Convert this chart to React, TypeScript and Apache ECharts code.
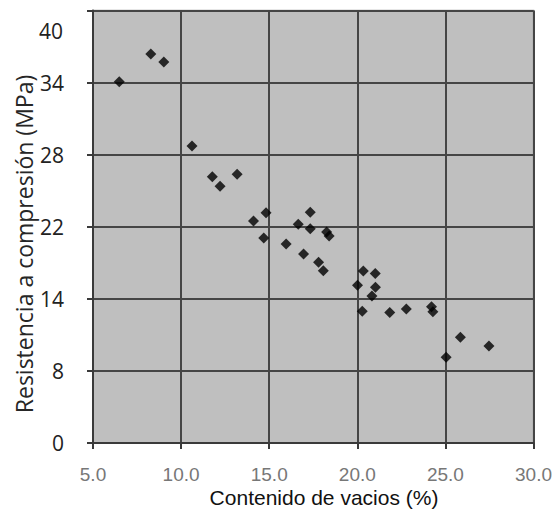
import React, { useEffect, useRef } from "react";
import * as echarts from "echarts";

// Contenido de vacíos (%) on x, resistencia (axis units, 0..42) on y
const voids = [
  6.49, 8.28, 9.02, 10.62, 11.77, 12.21, 13.18, 14.82, 14.11, 14.69, 15.96,
  16.65, 17.33, 17.33, 18.26, 18.4, 16.95, 17.8, 18.07, 20.34, 21.02, 20.01,
  21.03, 20.83, 20.28, 21.84, 22.78, 24.21, 24.29, 25.85, 27.47, 25.04,
];
const strength = [
  35.08, 37.77, 37.0, 28.84, 25.86, 24.93, 26.09, 22.36, 21.56, 19.91, 19.32,
  21.24, 22.4, 20.81, 20.49, 20.1, 18.35, 17.55, 16.73, 16.7, 16.45, 15.32,
  15.12, 14.27, 12.79, 12.67, 13.01, 13.24, 12.75, 10.26, 9.42, 8.32,
];
// tick values on the axis and the labels printed beside them
const yTickValues = [0, 7, 14, 21, 28, 35, 42];
const yTickLabels = ["0", "8", "14", "22", "28", "34", ""];
const yTopLabel = "40";
const xTitle = "Contenido de vacios (%)";
const yTitle = "Resistencia a compresión (MPa)";

export default function App() {
  const ref = useRef<HTMLDivElement>(null);
  useEffect(() => {
    if (!ref.current) return;
    const chart = echarts.init(ref.current, null, { renderer: "svg" });
    const points = voids.map((v, i) => [v, strength[i]]);
    chart.setOption({
      animation: false,
      grid: {
        left: 93,
        right: 20,
        top: 10.5,
        bottom: 67,
        show: true,
        backgroundColor: "#bfbfbf",
        borderColor: "#9a9a9a",
        borderWidth: 1.5,
      },
      xAxis: {
        type: "value",
        min: 5,
        max: 30,
        interval: 5,
        axisLine: { show: true, onZero: false, lineStyle: { color: "#3a3a3a", width: 2 } },
        axisTick: { show: true, inside: false, length: 6, lineStyle: { color: "#3a3a3a", width: 2 } },
        splitLine: { show: true, lineStyle: { color: "#454545", width: 2 } },
        axisLabel: {
          color: "#777777",
          fontFamily: "Liberation Sans",
          fontSize: 19,
          lineHeight: 17,
          margin: 23,
          formatter: (v: number) => v.toFixed(1),
        },
      },
      yAxis: {
        type: "value",
        min: 0,
        max: 42,
        interval: 7,
        axisLine: { show: true, onZero: false, lineStyle: { color: "#3a3a3a", width: 2 } },
        axisTick: { show: true, inside: false, length: 6, lineStyle: { color: "#3a3a3a", width: 2 } },
        splitLine: { show: true, lineStyle: { color: "#454545", width: 2 } },
        axisLabel: {
          color: "#222222",
          fontFamily: "Open Sans",
          fontSize: 21,
          margin: 29,
          formatter: (v: number) => {
            const idx = yTickValues.indexOf(Math.round(v));
            return idx >= 0 ? yTickLabels[idx] : "";
          },
        },
      },
      graphic: [
        {
          type: "text",
          x: 63,
          y: 31,
          style: {
            text: yTopLabel,
            fill: "#222222",
            font: "21px 'Open Sans'",
            textAlign: "right",
            textVerticalAlign: "middle",
          },
        },
        {
          type: "text",
          x: 24,
          y: 244,
          rotation: Math.PI / 2,
          style: {
            text: yTitle,
            fill: "#262626",
            font: "23px 'Open Sans'",
            textAlign: "center",
            textVerticalAlign: "middle",
          },
        },
        {
          type: "text",
          x: 324,
          y: 497,
          style: {
            text: xTitle,
            fill: "#111111",
            font: "21px 'Liberation Sans'",
            lineHeight: 19,
            textAlign: "center",
            textVerticalAlign: "middle",
          },
        },
      ],
      series: [
        {
          type: "scatter",
          data: points,
          symbol: "diamond",
          symbolSize: 11,
          itemStyle: { color: "#000000" },
        },
      ],
    });
    return () => chart.dispose();
  }, []);
  return (
    <div
      ref={ref}
      style={{ position: "absolute", left: 0, top: 0, width: 555, height: 510, background: "#ffffff" }}
    />
  );
}
